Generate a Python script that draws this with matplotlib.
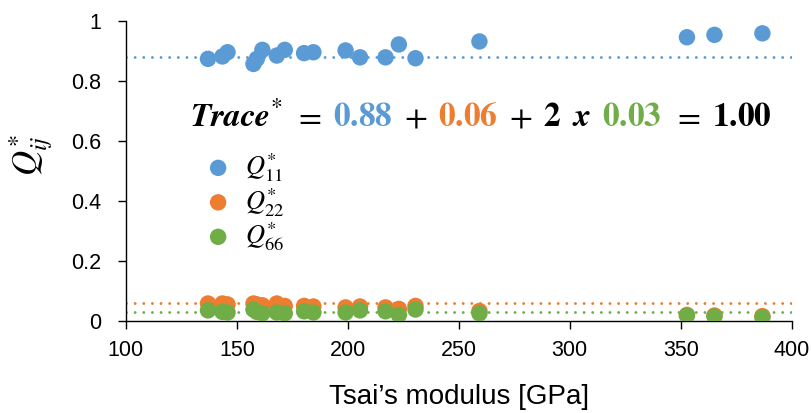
import matplotlib
matplotlib.use("Agg")
import matplotlib.pyplot as plt
from matplotlib.offsetbox import TextArea, HPacker, AnnotationBbox

plt.rcParams['mathtext.fontset'] = 'stix'
plt.rcParams['font.family'] = ['Liberation Sans', 'DejaVu Sans']

# Tsai's modulus of each laminate [GPa]
tsai = [137.0, 143.5, 145.8, 157.5, 159.0, 161.5, 168.0, 171.6, 180.3, 184.5,
        199.0, 205.5, 217.0, 223.0, 230.5, 259.3, 352.8, 365.2, 386.8]
q11 = [0.874, 0.882, 0.896, 0.857, 0.874, 0.904, 0.885, 0.904, 0.893, 0.896,
       0.902, 0.879, 0.879, 0.922, 0.876, 0.932, 0.946, 0.954, 0.959]
q22 = [0.058, 0.058, 0.055, 0.058, 0.055, 0.052, 0.058, 0.050, 0.050, 0.048,
       0.045, 0.048, 0.045, 0.040, 0.050, 0.033, 0.020, 0.018, 0.016]
q66 = [0.035, 0.030, 0.028, 0.038, 0.030, 0.025, 0.028, 0.025, 0.032, 0.028,
       0.028, 0.035, 0.032, 0.020, 0.038, 0.025, 0.018, 0.015, 0.012]

# trace-wise averages
avg11, avg22, avg66 = 0.88, 0.06, 0.03
trace_total = 1.00

blue, orange, green = '#5B9BD5', '#ED7D31', '#70AD47'

fig = plt.figure(figsize=(8.12, 4.13), dpi=100)
ax = fig.add_axes([0.155, 0.223, 0.82, 0.726])

dots = dict(lw=2.1, linestyle=(0, (0.01, 2.95)), dash_capstyle='round', zorder=1)
ax.axhline(avg11, color=blue, **dots)
ax.axhline(avg22, color=orange, **dots)
ax.axhline(avg66, color=green, **dots)

ms = 140
ax.scatter(tsai, q11, s=ms, color=blue, edgecolors='none', zorder=2, label=r'$Q^{*}_{11}$')
ax.scatter(tsai, q22, s=ms, color=orange, edgecolors='none', zorder=3, label=r'$Q^{*}_{22}$')
ax.scatter(tsai, q66, s=ms, color=green, edgecolors='none', zorder=4, label=r'$Q^{*}_{66}$')

ax.set_xlim(100, 400)
ax.set_ylim(0, 1)
ax.set_xticks(range(100, 401, 50))
ax.set_yticks([0, 0.2, 0.4, 0.6, 0.8, 1.0])
ax.set_yticklabels(['0', '0.2', '0.4', '0.6', '0.8', '1'])
for s in ('top', 'right'):
    ax.spines[s].set_visible(False)
for s in ('left', 'bottom'):
    ax.spines[s].set_linewidth(1.0)
ax.tick_params(direction='out', length=6, width=1.0, labelsize=15.5, colors='black')
ax.tick_params(axis='y', pad=12)
ax.tick_params(axis='x', pad=8)

ax.set_xlabel('Tsai\u2019s modulus [GPa]', fontsize=20, labelpad=16)
fig.text(0.038, 0.625, r'$Q^{*}_{ij}$', rotation=90, fontsize=25, ha='center', va='center')

ax.legend(loc='upper left', bbox_to_anchor=(0.095, 0.61), frameon=False, fontsize=19,
          handletextpad=0.4, handlelength=1.2, labelspacing=0.06, borderpad=0)

# coloured trace equation
fs = 24
pieces = [
    (r'$\mathbfit{Trace}^{*}$', 'black'),
    (r'$=$', 'black'),
    (r'$\mathbf{%.2f}$' % avg11, blue),
    (r'$+$', 'black'),
    (r'$\mathbf{%.2f}$' % avg22, orange),
    (r'$+$', 'black'),
    (r'$\mathbf{2}$', 'black'),
    (r'$\mathbfit{x}$', 'black'),
    (r'$\mathbf{%.2f}$' % avg66, green),
    (r'$=$', 'black'),
    (r'$\mathbf{%.2f}$' % trace_total, 'black'),
]
areas = [TextArea(t, textprops=dict(color=c, fontsize=fs)) for t, c in pieces]
row = HPacker(children=areas, align='baseline', pad=0, sep=8)
ab = AnnotationBbox(row, (260, 0.68), xycoords='data', box_alignment=(0.5, 0.5),
                    frameon=False)
ax.add_artist(ab)

fig.savefig('out.png', dpi=100)
